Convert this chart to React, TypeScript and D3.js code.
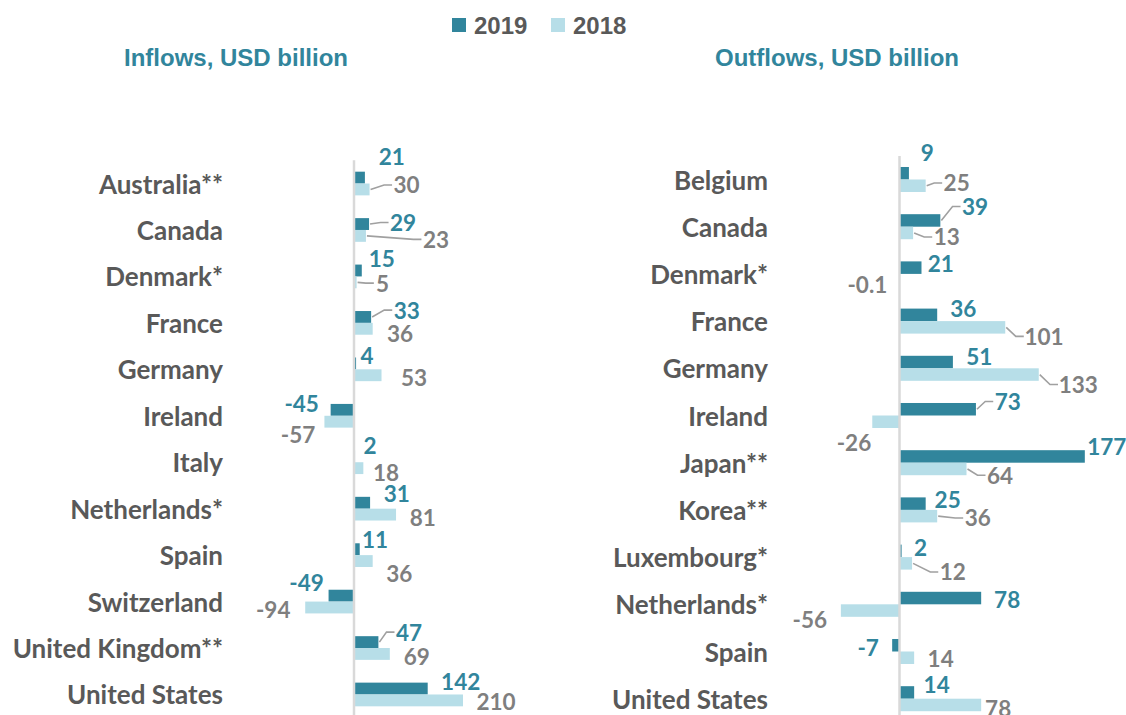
import React from "react";
import * as d3 from "d3";

// ---------- data ----------
const seriesNames = ["2019", "2018"];

const inCats = ["Australia**", "Canada", "Denmark*", "France", "Germany", "Ireland", "Italy", "Netherlands*", "Spain", "Switzerland", "United Kingdom**", "United States"];
const in2019 = [21, 29, 15, 33, 4, -45, 2, 31, 11, -49, 47, 142];
const in2018 = [30, 23, 5, 36, 53, -57, 18, 81, 36, -94, 69, 210];

const outCats = ["Belgium", "Canada", "Denmark*", "France", "Germany", "Ireland", "Japan**", "Korea**", "Luxembourg*", "Netherlands*", "Spain", "United States"];
const out2019 = [9, 39, 21, 36, 51, 73, 177, 25, 2, 78, -7, 14];
const out2018 = [25, 13, -0.1, 101, 133, -26, 64, 36, 12, -56, 14, 78];

// ---------- label layout (pixel nudges from bar end / bar centre) ----------
const in2019Nudge = [[26.8, -21.5], [34, -1.5], [20, -12], [35.6, -6.8], [11, -8.3], [-29, -6.5], [15, -11], [26.6, -9.5], [15.3, -10], [-22, -13.5], [30.6, -10], [33, -7.5]];
const in2018Nudge = [[37, -4.5], [70, 3.5], [26, 0.8], [27.3, 5], [32.5, 2.7], [-26.4, 13], [22.7, 4.8], [26.7, 2.5], [26.6, 12.2], [-32, 2.5], [27, 2.5], [33, 1.3]];
const in2019Leader = [0, 1, 0, 1, 0, 0, 0, 0, 0, 0, 1, 0];
const in2018Leader = [1, 1, 1, 0, 0, 0, 0, 0, 0, 0, 0, 0];

const out2019Nudge = [[18.4, -20.8], [34.7, -14], [19.2, -3.9], [26, -6.8], [26.4, -5.6], [31.8, -7.8], [21.9, -10], [22, -4.6], [19, -3.4], [26, 1.7], [-24, 2.2], [22.5, -7.7]];
const out2018Nudge = [[31, -2.8], [33.6, 4], [-32, 4.1], [38.8, 9], [39.5, 10], [-18.3, 21.2], [33.5, 6.3], [40.5, 1.8], [40.7, 8.6], [-31, 8.7], [26.5, 0.8], [17, 3.6]];
const out2019Leader = [0, 1, 0, 0, 0, 1, 0, 0, 0, 0, 0, 0];
const out2018Leader = [1, 1, 0, 1, 1, 0, 1, 1, 1, 0, 0, 0];

// ---------- styles ----------
const C2019 = "#31859C";
const C2018 = "#B7DEE8";
const LABEL19 = "#31859C";
const LABEL18 = "#7F7F7F";
const CAT = "#595959";
const NUMFONT = "Lato, 'Open Sans', sans-serif";
const TITLEFONT = "'Liberation Sans', Arial, sans-serif";

type PanelProps = {
  cats: string[];
  v19: number[];
  v18: number[];
  n19: number[][];
  n18: number[][];
  l19: number[];
  l18: number[];
  x: d3.ScaleLinear<number, number>;
  yTop: number;
  step: number;
  catRight: number;
  pad: number;
};

function fmt(v: number) {
  return String(v);
}

function Panel(p: PanelProps) {
  const y = d3
    .scaleBand<string>()
    .domain(p.cats)
    .range([p.yTop, p.yTop + p.step * p.cats.length])
    .paddingInner(p.pad)
    .paddingOuter(p.pad / 2);
  const sub = d3.scaleBand<string>().domain(seriesNames).range([0, y.bandwidth()]);
  const x0 = p.x(0);
  const series = [
    { name: "2019", vals: p.v19, nudge: p.n19, leader: p.l19, fill: C2019, lab: LABEL19 },
    { name: "2018", vals: p.v18, nudge: p.n18, leader: p.l18, fill: C2018, lab: LABEL18 },
  ];
  return (
    <g>
      {series.map((s) =>
        p.cats.map((c, i) => {
          const v = s.vals[i];
          const xv = p.x(v);
          const yy = (y(c) as number) + (sub(s.name) as number);
          const h = sub.bandwidth();
          return (
            <rect
              key={s.name + c}
              x={Math.min(x0, xv)}
              y={yy}
              width={Math.abs(xv - x0)}
              height={h}
              fill={s.fill}
            />
          );
        })
      )}
      <line x1={x0} x2={x0} y1={p.yTop} y2={p.yTop + p.step * p.cats.length} stroke="#D9D9D9" strokeWidth={2.5} />
      {p.cats.map((c) => (
        <text
          key={"c" + c}
          x={p.catRight}
          y={(y(c) as number) + y.bandwidth() / 2}
          textAnchor="end"
          dominantBaseline="central"
          fill={CAT}
          fontFamily={NUMFONT}
          fontWeight={700}
          fontSize={26}
        >
          {c}
        </text>
      ))}
      {series.map((s) =>
        p.cats.map((c, i) => {
          const v = s.vals[i];
          const xv = p.x(v);
          const cy = (y(c) as number) + (sub(s.name) as number) + sub.bandwidth() / 2;
          const lx = xv + s.nudge[i][0];
          const ly = cy + s.nudge[i][1];
          const txt = fmt(v);
          const w = txt.length * 11.5;
          const left = lx - w / 2;
          const path = s.leader[i]
            ? `M${xv + 1},${cy} L${left - 11},${ly} L${left - 3},${ly}`
            : null;
          return (
            <g key={"l" + s.name + c}>
              {path && <path d={path} fill="none" stroke="#A0A0A0" strokeWidth={1.6} />}
              <text
                x={lx}
                y={ly}
                textAnchor="middle"
                dominantBaseline="central"
                fill={s.lab}
                fontFamily={NUMFONT}
                fontWeight={700}
                fontSize={22.5}
              >
                {txt}
              </text>
            </g>
          );
        })
      )}
    </g>
  );
}

export default function App() {
  const kIn = 0.519;
  const axIn = 354;
  const xIn = d3.scaleLinear().domain([-100, 250]).range([axIn - 100 * kIn, axIn + 250 * kIn]);
  const kOut = 1.047;
  const axOut = 899.5;
  const xOut = d3.scaleLinear().domain([-60, 180]).range([axOut - 60 * kOut, axOut + 180 * kOut]);

  const legend = [
    { name: seriesNames[0], color: C2019, x: 452 },
    { name: seriesNames[1], color: C2018, x: 551 },
  ];

  return (
    <svg
      width={1126}
      height={715}
      style={{ position: "absolute", left: 0, top: 0, background: "#fff" }}
    >
      <rect width={1126} height={715} fill="#fff" />
      {legend.map((l) => (
        <g key={l.name}>
          <rect x={l.x} y={18} width={14} height={14} fill={l.color} />
          <text x={l.x + 22} y={34} fill={CAT} fontFamily={TITLEFONT} fontWeight={700} fontSize={24}>
            {l.name}
          </text>
        </g>
      ))}
      <text x={236} y={66} textAnchor="middle" fill={C2019} fontFamily={TITLEFONT} fontWeight={700} fontSize={24}>
        Inflows, USD billion
      </text>
      <text x={837} y={66} textAnchor="middle" fill={C2019} fontFamily={TITLEFONT} fontWeight={700} fontSize={24}>
        Outflows, USD billion
      </text>
      <Panel
        cats={inCats}
        v19={in2019}
        v18={in2018}
        n19={in2019Nudge}
        n18={in2018Nudge}
        l19={in2019Leader}
        l18={in2018Leader}
        x={xIn}
        yTop={160.3}
        step={46.45}
        catRight={223}
        pad={0.49}
      />
      <Panel
        cats={outCats}
        v19={out2019}
        v18={out2018}
        n19={out2019Nudge}
        n18={out2018Nudge}
        l19={out2019Leader}
        l18={out2018Leader}
        x={xOut}
        yTop={155.9}
        step={47.2}
        catRight={768}
        pad={0.47}
      />
    </svg>
  );
}
